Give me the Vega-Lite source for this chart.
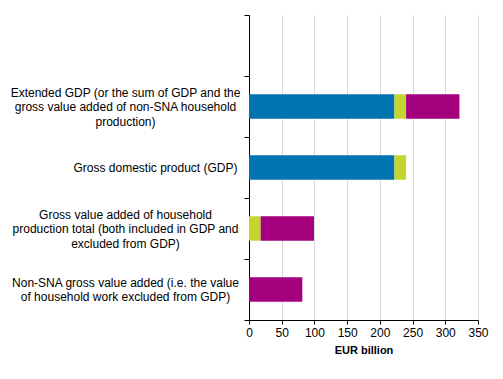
{
  "$schema": "https://vega.github.io/schema/vega-lite/v6.json",
  "width": 229,
  "height": 305,
  "autosize": "none",
  "padding": {"left": 249, "top": 15, "right": 25, "bottom": 59},
  "background": "white",
  "config": {
    "view": {"stroke": null},
    "font": "Liberation Sans"
  },
  "data": {
    "values": [
      {"cat": "ext", "series": "GDP", "value": 222.3, "ord": 1},
      {"cat": "ext", "series": "Included", "value": 17.8, "ord": 2},
      {"cat": "ext", "series": "NonSNA", "value": 81.5, "ord": 3},
      {"cat": "gdp", "series": "GDP", "value": 222.3, "ord": 1},
      {"cat": "gdp", "series": "Included", "value": 17.8, "ord": 2},
      {"cat": "hh", "series": "Included", "value": 17.8, "ord": 2},
      {"cat": "hh", "series": "NonSNA", "value": 81.5, "ord": 3},
      {"cat": "non", "series": "NonSNA", "value": 81.5, "ord": 3}
    ]
  },
  "mark": {"type": "bar", "height": {"band": 0.4}},
  "encoding": {
    "y": {
      "field": "cat",
      "type": "nominal",
      "scale": {"domain": ["empty", "ext", "gdp", "hh", "non"], "paddingInner": 0, "paddingOuter": 0},
      "axis": {
        "title": null,
        "tickBand": "extent",
        "domainColor": "#000000",
        "tickColor": "#000000",
        "tickSize": 5,
        "grid": false,
        "labelFont": "Liberation Sans",
        "labelFontSize": 12,
        "labelColor": "#000000",
        "labelLimit": 400,
        "labelAlign": "center",
        "labelBaseline": "middle",
        "labelLineHeight": 14.5,
        "labelPadding": {"condition": {"test": "datum.value=='gdp'", "value": 89}, "value": 119},
        "labelOffset": {"condition": {"test": "datum.value=='non'", "value": -7.25}, "value": -14.5},
        "labelExpr": "datum.value=='ext' ? ['Extended GDP (or the sum of GDP and the','gross value added of non-SNA household','production)'] : datum.value=='gdp' ? ['', 'Gross domestic product (GDP)'] : datum.value=='hh' ? ['Gross value added of household','production total (both included in GDP and','excluded from GDP)'] : datum.value=='non' ? ['Non-SNA gross value added (i.e. the value','of household work excluded from GDP)'] : ''"
      }
    },
    "x": {
      "field": "value",
      "type": "quantitative",
      "stack": "zero",
      "scale": {"domain": [0, 350], "nice": false},
      "axis": {
        "title": "EUR billion",
        "values": [0, 50, 100, 150, 200, 250, 300, 350],
        "grid": true,
        "gridColor": "#d9d9d9",
        "gridWidth": 1,
        "domainColor": "#000000",
        "tickColor": "#000000",
        "tickSize": 4,
        "labelFlush": false,
        "labelFont": "Liberation Sans",
        "labelFontSize": 12,
        "labelColor": "#000000",
        "labelPadding": 3,
        "titleFont": "Liberation Sans",
        "titleFontSize": 11,
        "titleFontWeight": "bold",
        "titleColor": "#000000",
        "titlePadding": 6
      }
    },
    "color": {
      "field": "series",
      "type": "nominal",
      "scale": {"domain": ["GDP", "Included", "NonSNA"], "range": ["#0073b0", "#c2d62e", "#a4007e"]},
      "legend": null
    },
    "order": {"field": "ord", "type": "quantitative"}
  }
}
